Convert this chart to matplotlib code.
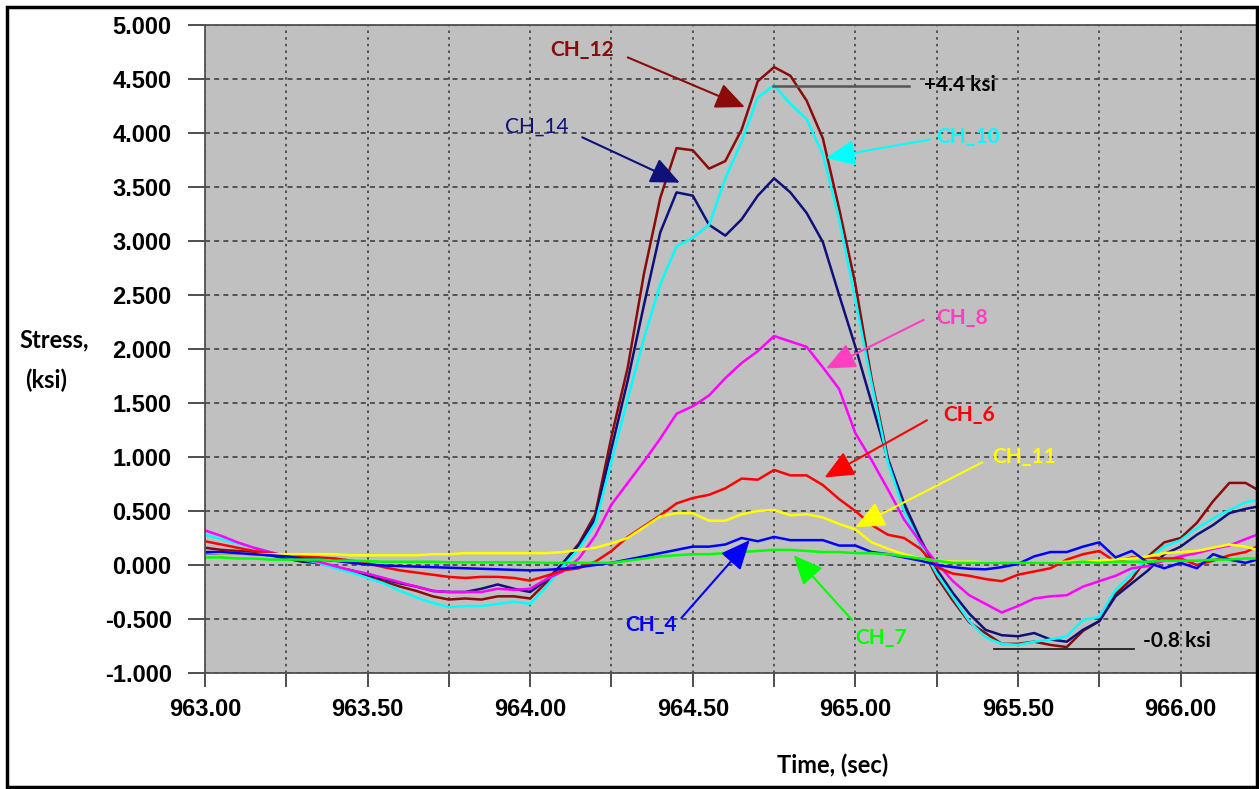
import matplotlib
matplotlib.use('Agg')
import matplotlib.pyplot as plt
from matplotlib.patches import Rectangle
from matplotlib.ticker import FuncFormatter, MultipleLocator
import numpy as np

# sample times (sec): every 0.05 s, plus the right edge of the record
time = list(np.round(np.arange(963.0, 966.201, 0.05), 2)) + [966.235]

# stress (ksi)
ch_12 = [0.16, 0.14, 0.13, 0.12, 0.10, 0.07, 0.04, 0.02, -0.02, -0.05, -0.10, -0.15,
         -0.20, -0.24, -0.29, -0.32, -0.31, -0.32, -0.29, -0.29, -0.31, -0.16, 0.015,
         0.20, 0.47, 1.19, 1.83, 2.70, 3.40, 3.86, 3.84, 3.67, 3.74, 4.03, 4.48, 4.61,
         4.53, 4.30, 3.95, 3.30,
         2.60, 1.72, 0.99, 0.52, 0.19, -0.11, -0.33, -0.53, -0.63, -0.73, -0.73, -0.71,
         -0.74, -0.76, -0.61, -0.52, -0.27, -0.13, 0.08, 0.21,
         0.25, 0.39, 0.59, 0.76, 0.76, 0.70]
ch_14 = [0.11, 0.11, 0.11, 0.10, 0.09, 0.06, 0.03, 0.02, -0.02, -0.05, -0.09, -0.13,
         -0.17, -0.20, -0.24, -0.25, -0.25, -0.22, -0.18, -0.22, -0.25, -0.14, 0.015,
         0.185, 0.43, 1.08, 1.71, 2.41, 3.08, 3.45, 3.42, 3.15, 3.05, 3.20, 3.42, 3.58,
         3.45, 3.26, 2.99, 2.50,
         2.02, 1.50, 0.98, 0.57, 0.24, -0.04, -0.26, -0.45, -0.60, -0.65, -0.66, -0.63,
         -0.69, -0.71, -0.60, -0.52, -0.29, -0.17, -0.05, 0.10,
         0.17, 0.28, 0.37, 0.48, 0.52, 0.54]
ch_10 = [0.28, 0.24, 0.20, 0.16, 0.12, 0.08, 0.05, 0.02, -0.03, -0.07, -0.12, -0.17,
         -0.24, -0.30, -0.35, -0.39, -0.38, -0.38, -0.36, -0.34, -0.36, -0.20, -0.015,
         0.15, 0.38, 0.96, 1.54, 2.10, 2.60, 2.95, 3.03, 3.15, 3.58, 3.92, 4.33, 4.44,
         4.27, 4.13, 3.80, 3.20,
         2.45, 1.68, 0.95, 0.50, 0.19, -0.08, -0.30, -0.52, -0.67, -0.73, -0.74, -0.71,
         -0.69, -0.66, -0.51, -0.48, -0.23, -0.08, 0.06, 0.17,
         0.23, 0.34, 0.43, 0.51, 0.58, 0.60]
ch_8 = [0.32, 0.27, 0.21, 0.16, 0.12, 0.08, 0.05, 0.03, -0.01, -0.05, -0.08, -0.12,
        -0.16, -0.20, -0.24, -0.25, -0.25, -0.25, -0.22, -0.23, -0.22, -0.13, -0.06,
        0.06, 0.27, 0.56, 0.76, 0.96, 1.17, 1.40, 1.47, 1.57, 1.73, 1.87, 1.98, 2.12,
        2.07, 2.02, 1.83, 1.63,
        1.22, 0.97, 0.70, 0.42, 0.21, 0.02, -0.15, -0.28, -0.36, -0.44, -0.38, -0.31,
        -0.29, -0.28, -0.20, -0.15, -0.10, -0.03, -0.01, 0.04,
        0.08, 0.11, 0.15, 0.18, 0.24, 0.28]
ch_6 = [0.22, 0.19, 0.16, 0.13, 0.11, 0.09, 0.08, 0.07, 0.06, 0.04, 0.015, -0.02,
        -0.05, -0.07, -0.09, -0.11, -0.12, -0.11, -0.11, -0.12, -0.145, -0.10, -0.05,
        -0.03, 0.03, 0.13, 0.26, 0.36, 0.46, 0.57, 0.62, 0.65, 0.71, 0.80, 0.79, 0.88,
        0.83, 0.83, 0.74, 0.61,
        0.50, 0.37, 0.28, 0.25, 0.15, -0.02, -0.08, -0.10, -0.13, -0.15, -0.09, -0.06,
        -0.03, 0.05, 0.10, 0.13, 0.03, 0.07, 0.07, 0.06,
        0.06, 0.00, 0.04, 0.09, 0.12, 0.17]
ch_11 = [0.12, 0.11, 0.11, 0.10, 0.10, 0.10, 0.10, 0.10, 0.10, 0.09, 0.09, 0.09,
         0.09, 0.09, 0.10, 0.10, 0.11, 0.11, 0.11, 0.11, 0.11, 0.11, 0.12,
         0.14, 0.16, 0.20, 0.25, 0.35, 0.45, 0.48, 0.48, 0.41, 0.41, 0.47, 0.50, 0.51,
         0.46, 0.47, 0.44, 0.38,
         0.33, 0.21, 0.15, 0.10, 0.06, 0.04, 0.03, 0.03, 0.025, 0.02, 0.02, 0.02,
         0.025, 0.03, 0.03, 0.04, 0.05, 0.06, 0.08, 0.11,
         0.12, 0.13, 0.16, 0.19, 0.17, 0.14]
ch_4 = [0.12, 0.12, 0.11, 0.10, 0.09, 0.08, 0.06, 0.05, 0.04, 0.02, 0.005, -0.005,
        -0.01, -0.015, -0.02, -0.025, -0.03, -0.035, -0.04, -0.045, -0.05, -0.045, -0.035,
        -0.02, 0.00, 0.02, 0.05, 0.08, 0.11, 0.14, 0.17, 0.17, 0.19, 0.25, 0.22, 0.26,
        0.23, 0.23, 0.23, 0.18,
        0.18, 0.12, 0.10, 0.07, 0.04, 0.00, -0.02, -0.035, -0.04, -0.02, 0.01, 0.08,
        0.12, 0.12, 0.17, 0.21, 0.07, 0.13, 0.02, -0.03,
        0.02, -0.03, 0.10, 0.05, 0.02, 0.05]
ch_7 = [0.07, 0.07, 0.06, 0.06, 0.05, 0.05, 0.05, 0.05, 0.04, 0.04, 0.035, 0.03,
        0.03, 0.03, 0.03, 0.025, 0.025, 0.025, 0.025, 0.025, 0.025, 0.02, 0.02,
        0.02, 0.02, 0.02, 0.04, 0.06, 0.08, 0.09, 0.10, 0.10, 0.11, 0.12, 0.13, 0.14,
        0.14, 0.13, 0.12, 0.12,
        0.11, 0.11, 0.10, 0.08, 0.06, 0.04, 0.02, 0.02, 0.02, 0.02, 0.02, 0.02,
        0.02, 0.02, 0.03, 0.02, 0.03, 0.03, 0.03, 0.04,
        0.04, 0.04, 0.05, 0.05, 0.06, 0.06]

series = [
    ('CH_12', ch_12, '#8b0a0a'),
    ('CH_14', ch_14, '#10107a'),
    ('CH_10', ch_10, '#00ffff'),
    ('CH_8', ch_8, '#ff00ff'),
    ('CH_6', ch_6, '#ff0000'),
    ('CH_11', ch_11, '#ffff00'),
    ('CH_4', ch_4, '#0000ff'),
    ('CH_7', ch_7, '#00ff00'),
]

tick_font = dict(family='Liberation Sans', weight='bold', size=17)
label_font = dict(family='Lato', weight='bold', size=17)

fig = plt.figure(figsize=(12.59, 7.89), dpi=100)
ax = fig.add_axes([205 / 1259, 1 - 673 / 789, 1052 / 1259, 648 / 789])
ax.set_facecolor('#c0c0c0')

for name, vals, col in series:
    ax.plot(time, vals, color=col, lw=1.8)

ax.set_xlim(963.0, 966.235)
ax.set_ylim(-1.0, 5.0)
ax.xaxis.set_major_locator(MultipleLocator(0.25))
ax.yaxis.set_major_locator(MultipleLocator(0.5))
ax.xaxis.set_major_formatter(FuncFormatter(
    lambda v, p: '%.2f' % v if abs(v * 2 - round(v * 2)) < 1e-6 else ''))
ax.yaxis.set_major_formatter(FuncFormatter(lambda v, p: '%.3f' % v))
for lab in ax.get_xticklabels() + ax.get_yticklabels():
    lab.set(**tick_font)
ax.tick_params(axis='y', length=12, width=1.3, color='#404040', pad=12)
ax.tick_params(axis='x', length=10, width=1.3, color='#404040', pad=8)

ax.grid(axis='y', color='#404040', lw=1.2, ls=(0, (3, 2.5)))
ax.grid(axis='x', color='#404040', lw=1.2, ls=(0, (1.5, 2.5)))
ax.set_axisbelow(True)
for side in ['left', 'bottom', 'top']:
    ax.spines[side].set_color('#505050')
    ax.spines[side].set_linewidth(1.3)
ax.spines['right'].set_visible(False)

# channel call-outs: (text, text pos, arrow tail, arrow head, colour, weight, ha)
callouts = [
    ('CH_12', (964.16, 4.77), (964.30, 4.70), (964.66, 4.24), '#8b0a0a', 'bold', 'center'),
    ('CH_14', (964.02, 4.06), (964.16, 3.96), (964.46, 3.54), '#10107a', 'normal', 'center'),
    ('CH_10', (965.25, 3.96), (965.23, 3.94), (964.91, 3.77), '#00ffff', 'bold', 'left'),
    ('CH_8', (965.25, 2.29), (965.21, 2.27), (964.91, 1.82), '#ff3fbf', 'bold', 'left'),
    ('CH_6', (965.27, 1.39), (965.22, 1.34), (964.905, 0.81), '#ff0000', 'bold', 'left'),
    ('CH_11', (965.42, 1.00), (965.39, 0.95), (965.00, 0.35), '#ffff00', 'bold', 'left'),
    ('CH_4', (964.37, -0.56), (964.465, -0.49), (964.675, 0.23), '#0000ff', 'bold', 'center'),
    ('CH_7', (965.00, -0.68), (964.99, -0.51), (964.81, 0.09), '#00ff00', 'bold', 'left'),
]
for txt, tpos, tail, head, col, wt, ha in callouts:
    ax.text(tpos[0], tpos[1], txt, color=col, family='Lato', weight=wt, size=15,
            ha=ha, va='center')
    ax.annotate('', xy=head, xytext=tail,
                arrowprops=dict(arrowstyle='-|>,head_length=0.9,head_width=0.4',
                                color=col, lw=1.5, mutation_scale=20,
                                shrinkA=0, shrinkB=0))

# peak markers
ax.plot([964.748, 965.166], [4.435, 4.435], color='#555555', lw=1.8)
ax.text(965.21, 4.44, '+4.4 ksi', color='black', family='Lato', weight='bold',
        size=15, ha='left', va='center')
ax.plot([965.427, 965.857], [-0.78, -0.78], color='#202020', lw=1.3)
ax.text(965.885, -0.70, '-0.8 ksi', color='black', family='Lato', weight='bold',
        size=15, ha='left', va='center')

fig.text(54 / 1259, 1 - 340 / 789, 'Stress,', ha='center', va='center', **label_font)
fig.text(46 / 1259, 1 - 380 / 789, '(ksi)', ha='center', va='center', **label_font)
fig.text(833 / 1259, 1 - 765 / 789, 'Time, (sec)', ha='center', va='center', **label_font)

fig.patches.append(Rectangle((6.5 / 1259, 2.5 / 789), 1250.5 / 1259, 780 / 789,
                             transform=fig.transFigure, fill=False,
                             edgecolor='black', lw=2.5))

fig.savefig('out.png', dpi=100)
plt.close()
